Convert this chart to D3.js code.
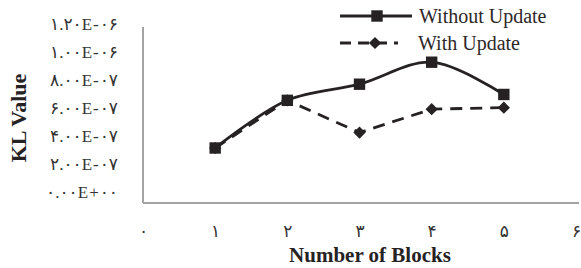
<!DOCTYPE html>
<html>
<head>
<meta charset="utf-8">
<script src="https://cdn.jsdelivr.net/npm/d3@7"></script>
<style>
  body { margin: 0; background: #fff; }
  svg { display: block; }
  text { font-family: "Times New Roman", "Liberation Serif", "DejaVu Sans", serif; }
</style>
</head>
<body>
<div id="chart"></div>
<script>
// chart data
const blocks = [1, 2, 3, 4, 5];
const withoutUpdate = [3.75e-7, 7.0e-7, 8.1e-7, 9.6e-7, 7.4e-7];
const withUpdate = [3.75e-7, 7.0e-7, 4.8e-7, 6.4e-7, 6.5e-7];
const xTicks = [0, 1, 2, 3, 4, 5, 6];
const yTicks = [0, 2e-7, 4e-7, 6e-7, 8e-7, 1.0e-6, 1.2e-6];
const seriesNames = ['Without Update', 'With Update'];

const width = 581;
const height = 268;
const ink = '#262223';
const labelFont = '"Times New Roman", "Liberation Serif", "DejaVu Sans", serif';

// persian digits for tick labels
const faDigits = '۰۱۲۳۴۵۶۷۸۹';
function toFa(s) {
    return String(s).replace(/[0-9]/g, d => faDigits[+d]);
}

// excel style scientific format, e.g. 1.20E-06
function sciLabel(v) {
    if (v === 0) return toFa('0.00E+00');
    let exp = Math.floor(Math.log10(v) + 1e-9);
    let mant = v / Math.pow(10, exp);
    let sign = exp < 0 ? '-' : '+';
    return toFa(mant.toFixed(2) + 'E' + sign + String(Math.abs(exp)).padStart(2, '0'));
}

const svg = d3.select('#chart')
    .append('svg')
    .attr('width', width)
    .attr('height', height);

// plot area
const x = d3.scaleLinear().domain([0, 6]).range([143, 576]);
const y = d3.scaleLinear().domain([0, 1.2e-6]).range([203, 27]);
// labels of the scanned figure sit a bit higher than the gridline positions
const yLabel = d3.scaleLinear().domain([0, 1.2e-6]).range([192, 24]);

// axis lines
svg.append('line')
    .attr('x1', x(0)).attr('x2', x(0))
    .attr('y1', y(1.2e-6)).attr('y2', y(0))
    .attr('stroke', '#a3a3a3').attr('stroke-width', 2);
svg.append('line')
    .attr('x1', x(0)).attr('x2', 579)
    .attr('y1', y(0)).attr('y2', y(0))
    .attr('stroke', '#a3a3a3').attr('stroke-width', 2);

// y tick labels
const yAxis = d3.axisLeft(yLabel)
    .tickValues(yTicks)
    .tickSize(0)
    .tickPadding(0)
    .tickFormat(sciLabel);
const yg = svg.append('g')
    .attr('transform', 'translate(118,0)')
    .call(yAxis);
yg.select('.domain').remove();
yg.selectAll('text')
    .attr('font-size', 17)
    .attr('fill', '#333')
    .attr('direction', 'ltr')
    .attr('letter-spacing', 1)
    .style('font-family', labelFont);

// x tick labels
const xAxis = d3.axisBottom(x)
    .tickValues(xTicks)
    .tickSize(0)
    .tickPadding(0)
    .tickFormat(d => toFa(d));
const xg = svg.append('g')
    .attr('transform', 'translate(0,225)')
    .call(xAxis);
xg.select('.domain').remove();
xg.selectAll('text')
    .attr('font-size', 17)
    .attr('fill', '#333')
    .style('font-family', labelFont);

// axis titles
svg.append('text')
    .attr('transform', 'translate(26,118) rotate(-90)')
    .attr('text-anchor', 'middle')
    .attr('font-size', 22)
    .attr('font-weight', 'bold')
    .attr('fill', ink)
    .text('KL Value');

svg.append('text')
    .attr('x', 370)
    .attr('y', 262)
    .attr('text-anchor', 'middle')
    .attr('font-size', 21)
    .attr('font-weight', 'bold')
    .attr('fill', ink)
    .text('Number of Blocks');

// lines
const smoothLine = d3.line()
    .x((d, i) => x(blocks[i]))
    .y(d => y(d))
    .curve(d3.curveCatmullRom.alpha(0.5));
const straightLine = d3.line()
    .x((d, i) => x(blocks[i]))
    .y(d => y(d));

svg.append('path')
    .datum(withUpdate)
    .attr('d', straightLine)
    .attr('fill', 'none')
    .attr('stroke', ink)
    .attr('stroke-width', 2.8)
    .attr('stroke-dasharray', '12,8');

svg.append('path')
    .datum(withoutUpdate)
    .attr('d', smoothLine)
    .attr('fill', 'none')
    .attr('stroke', ink)
    .attr('stroke-width', 2.8);

// markers
const square = d3.symbol().type(d3.symbolSquare).size(130);
const diamond = d3.symbol().type(d3.symbolSquare).size(75);

svg.append('g').selectAll('path')
    .data(withUpdate)
    .enter()
    .append('path')
    .attr('d', diamond)
    .attr('transform', (d, i) => `translate(${x(blocks[i])},${y(d)}) rotate(45)`)
    .attr('fill', ink);

svg.append('g').selectAll('path')
    .data(withoutUpdate)
    .enter()
    .append('path')
    .attr('d', square)
    .attr('transform', (d, i) => `translate(${x(blocks[i])},${y(d)})`)
    .attr('fill', ink);

// legend
const legend = svg.append('g');
legend.append('line')
    .attr('x1', 340).attr('x2', 412)
    .attr('y1', 16).attr('y2', 16)
    .attr('stroke', ink).attr('stroke-width', 2.8);
legend.append('path')
    .attr('d', square)
    .attr('transform', 'translate(377,16)')
    .attr('fill', ink);
legend.append('text')
    .attr('x', 419).attr('y', 23)
    .attr('font-size', 20)
    .attr('fill', '#2e2728')
    .text(seriesNames[0]);

legend.append('line')
    .attr('x1', 340).attr('x2', 398)
    .attr('y1', 43).attr('y2', 43)
    .attr('stroke', ink).attr('stroke-width', 2.8)
    .attr('stroke-dasharray', '11,7');
legend.append('path')
    .attr('d', diamond)
    .attr('transform', 'translate(375,43) rotate(45)')
    .attr('fill', ink);
legend.append('text')
    .attr('x', 418).attr('y', 50)
    .attr('font-size', 20)
    .attr('fill', '#2e2728')
    .text(seriesNames[1]);
</script>
</body>
</html>
